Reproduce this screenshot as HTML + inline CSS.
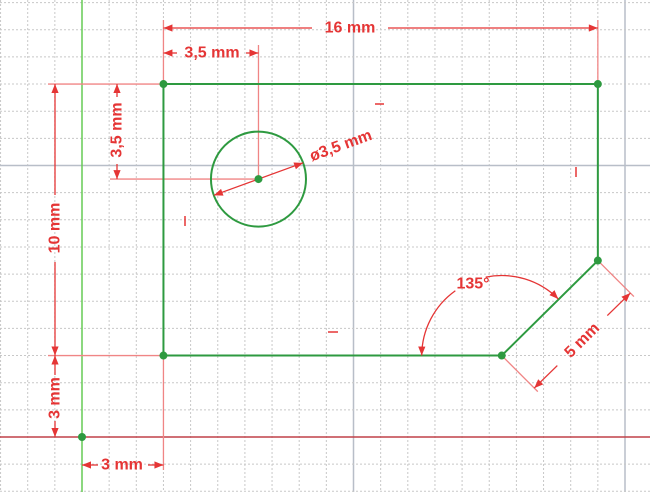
<!DOCTYPE html>
<html><head><meta charset="utf-8">
<style>
html,body{margin:0;padding:0;background:#fff;}
svg{display:block;font-family:"Liberation Sans",sans-serif;}
</style></head>
<body>
<svg id="s" width="650" height="492" viewBox="0 0 650 492" xmlns="http://www.w3.org/2000/svg"></svg>
<script>
// sketch data in mm
const rectCorners = [[3,3],[19,3],[19,13],[3,13]];
const profile = [[19,13],[19,6.5],[15.46,3],[3,3],[3,13],[19,13]];
const circleCenter = [6.5,9.5];
const circleRadius = 1.75;
const points = [[0,0],[3,3],[3,13],[19,13],[19,6.5],[15.46,3],[6.5,9.5]];
const dimLabels = ["16 mm","3,5 mm","10 mm","3,5 mm","3 mm","3 mm","ø3,5 mm","135°","5 mm"];

const S=27.15, OX=82, OY=437;
const X=v=>OX+v*S, Y=v=>OY-v*S;
const svg=document.getElementById('s');
const NS='http://www.w3.org/2000/svg';
function el(tag,attrs,name,parent){
  const e=document.createElementNS(NS,tag);
  for(const k in attrs)e.setAttribute(k,attrs[k]);
  
  
  (parent||svg).appendChild(e);return e;
}
const RED='#e53535', EXT='#f08585';
// grid
for(let k=-3;k<=22;k++){
  const x=X(k); if(x<0||x>650)continue;
  const major = k%10===0 && k!==0;
  el('line',{x1:x,y1:0,x2:x,y2:492,stroke:major?'#b8bec8':'#c8c8c8','stroke-width':major?1.5:1,'stroke-dasharray':major?'':'2,2'},'grid-line-v');
}
for(let k=-2;k<=17;k++){
  const y=Y(k); if(y<0||y>492)continue;
  const major = k%10===0 && k!==0;
  el('line',{x1:0,y1:y,x2:650,y2:y,stroke:major?'#b8bec8':'#c8c8c8','stroke-width':major?1.5:1,'stroke-dasharray':major?'':'2,2'},'grid-line-h');
}
// axes
el('line',{x1:X(0),y1:0,x2:X(0),y2:492,stroke:'#66cc55','stroke-width':1.5},'y-axis');
el('line',{x1:0,y1:Y(0),x2:650,y2:Y(0),stroke:'#c04048','stroke-width':1.5},'x-axis');

const defs=el('defs',{},'defs');
const m=el('marker',{id:'ar',viewBox:'0 0 10 10',refX:10,refY:5,markerWidth:12,markerHeight:9,markerUnits:'userSpaceOnUse',orient:'auto-start-reverse'},'arrow-marker',defs);
el('path',{d:'M0,1 L10,5 L0,9 z',fill:RED},'arrow-head',m);

function ext(x1,y1,x2,y2,n){el('line',{x1,y1,x2,y2,stroke:EXT,'stroke-width':1.3},n);}
function dim(x1,y1,x2,y2,n){el('line',{x1,y1,x2,y2,stroke:RED,'stroke-width':1.3,'marker-start':'url(#ar)','marker-end':'url(#ar)'},n);}
function half(x1,y1,x2,y2,n){el('line',{x1,y1,x2,y2,stroke:RED,'stroke-width':1.3,'marker-end':'url(#ar)'},n);}
function txt(x,y,s,rot,n){const t=el('text',{x,y,fill:RED,'font-size':16,'font-weight':'bold','text-anchor':'middle','dominant-baseline':'central',transform:rot?`rotate(${rot} ${x} ${y})`:''},n);t.textContent=s;return t;}

ext(X(3),20,X(3),Y(13),'ext-16-left');ext(X(19),20,X(19),Y(13),'ext-16-right');
ext(X(6.5),45,X(6.5),Y(9.5),'ext-35-top');
ext(48,Y(13),X(3),Y(13),'ext-10-top');ext(48,Y(3),X(3),Y(3),'ext-10-bottom');
ext(110,Y(9.5),X(6.5),Y(9.5),'ext-35-left');
ext(X(3),Y(3),X(3),470,'ext-3-bottom');
el('polyline',{points:profile.map(p=>X(p[0])+','+Y(p[1])).join(' '),fill:'none',stroke:'#2e9a40','stroke-width':2},'sketch-profile');
el('circle',{cx:X(circleCenter[0]),cy:Y(circleCenter[1]),r:circleRadius*S,fill:'none',stroke:'#2e9a40','stroke-width':2},'hole-circle');

half(312,28,X(3),28,'dim-16-l');half(388,28,X(19),28,'dim-16-r');txt(350,28,dimLabels[0],0,'dim-16-label');
half(177,53,X(3),53,'dim-35-l');half(246,53,X(6.5),53,'dim-35-r');txt(212,53,dimLabels[1],0,'dim-35-label');
half(55,195,55,Y(13),'dim-10-t');half(55,262,55,Y(3),'dim-10-b');txt(55,228,dimLabels[2],-90,'dim-10-label');
half(117,97,117,Y(13),'dim-35v-t');half(117,164,117,Y(9.5),'dim-35v-b');txt(117,130,dimLabels[3],-90,'dim-35v-label');
half(55,375,55,Y(3),'dim-3v-t');half(55,421,55,Y(0),'dim-3v-b');txt(55,398,dimLabels[4],-90,'dim-3v-label');
half(98,465,X(0),465,'dim-3h-l');half(148,465,X(3),465,'dim-3h-r');txt(122,465,dimLabels[5],0,'dim-3h-label');
const cx=X(circleCenter[0]),cy=Y(circleCenter[1]),r=circleRadius*S,a=-20*Math.PI/180;
dim(cx-r*Math.cos(a),cy-r*Math.sin(a),cx+r*Math.cos(a),cy+r*Math.sin(a),'dim-diameter');
txt(341,146,dimLabels[6],-20,'dim-diameter-label');
const ax=X(15.46),ay=Y(3),R=80;
el('path',{d:`M${ax-R},${ay} A${R},${R} 0 0 1 ${ax-R*0.58},${ay-R*0.81}`,fill:'none',stroke:RED,'stroke-width':1.3,'marker-start':'url(#ar)'},'angle-arc-left');
el('path',{d:`M${ax-R*0.2},${ay-R*0.98} A${R},${R} 0 0 1 ${ax+R*0.707},${ay-R*0.707}`,fill:'none',stroke:RED,'stroke-width':1.3,'marker-end':'url(#ar)'},'angle-arc-right');
txt(473,284,dimLabels[7],0,'angle-label');
const p1=[X(19),Y(6.5)],p2=[X(15.46),Y(3)],off=46,nx=0.707,ny=0.707;
ext(p1[0],p1[1],p1[0]+(off+5)*nx,p1[1]+(off+5)*ny,'ext-5-a');ext(p2[0],p2[1],p2[0]+(off+5)*nx,p2[1]+(off+5)*ny,'ext-5-b');
const d1=[p1[0]+off*nx,p1[1]+off*ny],d2=[p2[0]+off*nx,p2[1]+off*ny];
const mx=(d1[0]+d2[0])/2,my=(d1[1]+d2[1])/2;
half(mx+25,my-25,d1[0],d1[1],'dim-5-a');
half(mx-25,my+25,d2[0],d2[1],'dim-5-b');
txt(mx,my,dimLabels[8],-45,'dim-5-label');
el('line',{x1:375,y1:104,x2:384,y2:104,stroke:RED,'stroke-width':1.5},'horizontal-constraint');
el('line',{x1:328,y1:332,x2:338,y2:332,stroke:RED,'stroke-width':1.5},'horizontal-constraint');
el('line',{x1:576,y1:167,x2:576,y2:177,stroke:RED,'stroke-width':1.5},'vertical-constraint');
el('line',{x1:185,y1:216,x2:185,y2:226,stroke:RED,'stroke-width':1.5},'vertical-constraint');
points.forEach(p=>{const c=el('circle',{cx:X(p[0]),cy:Y(p[1]),r:4,fill:'#2e9a40'},'sketch-point');});
</script>
</body></html>
